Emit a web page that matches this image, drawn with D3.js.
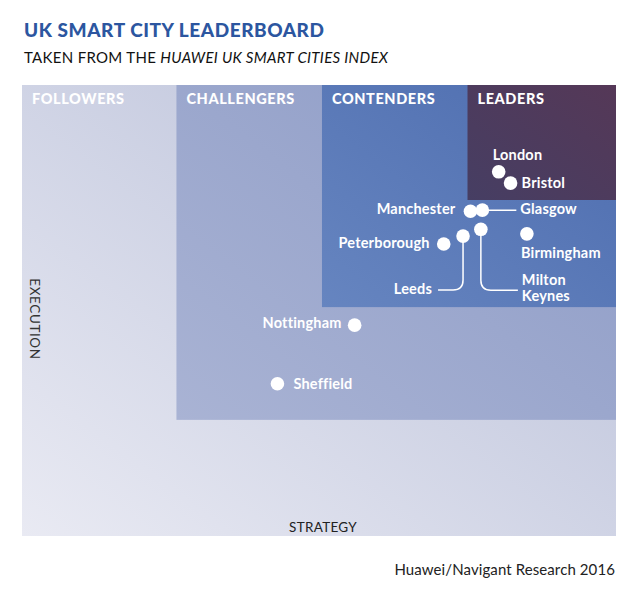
<!DOCTYPE html>
<html>
<head>
<meta charset="utf-8">
<script src="https://cdn.jsdelivr.net/npm/d3@7/dist/d3.min.js"></script>
<style>
  html, body { margin: 0; padding: 0; background: #fff; }
  svg { display: block; font-family: Lato, "Open Sans", sans-serif; }
</style>
</head>
<body>
<svg id="chart" width="640" height="601"></svg>
<script>
// ---- data ----
const quadrants = ["FOLLOWERS", "CHALLENGERS", "CONTENDERS", "LEADERS"];
const strategyThresholds = [0, 1.04, 2.02, 3.0];   // lower bound on strategy axis
const executionThresholds = [0, 1.03, 2.03, 2.98]; // lower bound on execution axis
const cities = ["London", "Bristol", "Manchester", "Glasgow", "Milton Keynes", "Leeds", "Peterborough", "Birmingham", "Nottingham", "Sheffield"];
const strategy = [3.21, 3.29, 3.02, 3.10, 3.09, 2.97, 2.84, 3.40, 2.24, 1.72];
const execution = [3.23, 3.13, 2.88, 2.89, 2.72, 2.66, 2.59, 2.68, 1.87, 1.35];

// ---- layout / style (not data) ----
const plot = { left: 22, right: 616, top: 85, bottom: 536 };
const quadStyle = [
  { c0: "#e9eaf3", c1: "#b6bdd7" },
  { c0: "#a9b3d4", c1: "#8d9bc6" },
  { c0: "#6685c0", c1: "#4e6daf" },
  { c0: "#463e63", c1: "#553857" }
];
const labelLayout = {
  "London":        { dx: -6, dy: -12, anchor: "start" },
  "Bristol":       { dx: 11, dy: 5, anchor: "start" },
  "Manchester":    { dx: -15, dy: 3, anchor: "end" },
  "Glasgow":       { dx: 38, dy: 4, anchor: "start", line: "h" },
  "Peterborough":  { dx: -14, dy: 4, anchor: "end" },
  "Birmingham":    { dx: -6, dy: 24, anchor: "start" },
  "Leeds":         { dx: -31, dy: 58, anchor: "end", line: "left", ly: 54, lx: -25 },
  "Milton Keynes": { dx: 41, dy: 56, anchor: "start", line: "right", ly: 61, lx: 37, lines: ["Milton", "Keynes"] },
  "Nottingham":    { dx: -13, dy: 3, anchor: "end" },
  "Sheffield":     { dx: 16, dy: 5, anchor: "start" }
};

const svg = d3.select("#chart");
const x = d3.scaleLinear().domain([0, 4]).range([plot.left, plot.right]);
const y = d3.scaleLinear().domain([0, 4]).range([plot.bottom, plot.top]);

const defs = svg.append("defs");
quadStyle.forEach((s, i) => {
  const g = defs.append("linearGradient").attr("id", "g" + i)
    .attr("x1", "0").attr("y1", "1").attr("x2", "1").attr("y2", "0");
  g.append("stop").attr("offset", "0").attr("stop-color", s.c0);
  g.append("stop").attr("offset", "1").attr("stop-color", s.c1);
});

// Title
svg.append("text").attr("x", 24).attr("y", 37)
  .attr("font-size", 19).attr("font-weight", 900).attr("fill", "#2c56a0")
  .attr("letter-spacing", 0.55)
  .text("UK SMART CITY LEADERBOARD");
const sub = svg.append("text").attr("x", 24).attr("y", 63)
  .attr("font-size", 15).attr("fill", "#111").attr("letter-spacing", 0.3);
sub.append("tspan").text("TAKEN FROM THE ");
sub.append("tspan").attr("font-style", "italic").text("HUAWEI UK SMART CITIES INDEX");

// Quadrant bands
const qd = quadrants.map((q, i) => ({ name: q, sx: strategyThresholds[i], ey: executionThresholds[i], i }));
svg.append("g").selectAll("rect").data(qd).join("rect")
  .attr("x", d => x(d.sx))
  .attr("y", y(4))
  .attr("width", d => x(4) - x(d.sx))
  .attr("height", d => y(d.ey) - y(4))
  .attr("fill", d => `url(#g${d.i})`);

svg.append("g").selectAll("text").data(qd).join("text")
  .attr("x", d => x(d.sx) + 10)
  .attr("y", y(4) + 19)
  .attr("font-size", 14.5).attr("font-weight", 900).attr("fill", "#fff")
  .attr("letter-spacing", 0.6)
  .text(d => d.name);

// Axis titles
svg.append("text")
  .attr("transform", `translate(30,319) rotate(90)`)
  .attr("text-anchor", "middle").attr("font-size", 13.5).attr("fill", "#333")
  .attr("letter-spacing", 0.6)
  .text("EXECUTION");
svg.append("text").attr("x", 323).attr("y", 532)
  .attr("text-anchor", "middle").attr("font-size", 13.5).attr("fill", "#222")
  .attr("letter-spacing", 0.3)
  .text("STRATEGY");

// Footer
svg.append("text").attr("x", 615).attr("y", 575)
  .attr("text-anchor", "end").attr("font-size", 15).attr("fill", "#222")
  .attr("letter-spacing", 0.1)
  .text("Huawei/Navigant Research 2016");

// Points
const pts = cities.map((c, i) => ({ name: c, sx: strategy[i], ey: execution[i], L: labelLayout[c] }));

// Leader lines
const lineG = svg.append("g").attr("fill", "none").attr("stroke", "#fff").attr("stroke-width", 1.5);
pts.forEach(d => {
  const cx = x(d.sx), cy = y(d.ey), L = d.L;
  if (!L.line) return;
  const p = d3.path();
  if (L.line === "h") {
    p.moveTo(cx, cy); p.lineTo(cx + L.dx - 4, cy);
  } else {
    const r = 10, dir = L.line === "left" ? -1 : 1;
    p.moveTo(cx, cy);
    p.lineTo(cx, cy + L.ly - r);
    p.quadraticCurveTo(cx, cy + L.ly, cx + dir * r, cy + L.ly);
    p.lineTo(cx + L.lx, cy + L.ly);
  }
  lineG.append("path").attr("d", p.toString());
});

svg.append("g").selectAll("circle").data(pts).join("circle")
  .attr("cx", d => x(d.sx)).attr("cy", d => y(d.ey)).attr("r", 6.8)
  .attr("fill", "#fff");

const lbl = svg.append("g").selectAll("text").data(pts).join("text")
  .attr("x", d => x(d.sx) + d.L.dx)
  .attr("y", d => y(d.ey) + d.L.dy)
  .attr("text-anchor", d => d.L.anchor)
  .attr("font-size", 14.5).attr("font-weight", 700).attr("fill", "#fff")
  .attr("letter-spacing", 0.2);
lbl.each(function(d) {
  const t = d3.select(this);
  const lines = d.L.lines || [d.name];
  lines.forEach((s, k) => {
    t.append("tspan").attr("x", x(d.sx) + d.L.dx).attr("dy", k === 0 ? 0 : 15.5).text(s);
  });
});
</script>
</body>
</html>
